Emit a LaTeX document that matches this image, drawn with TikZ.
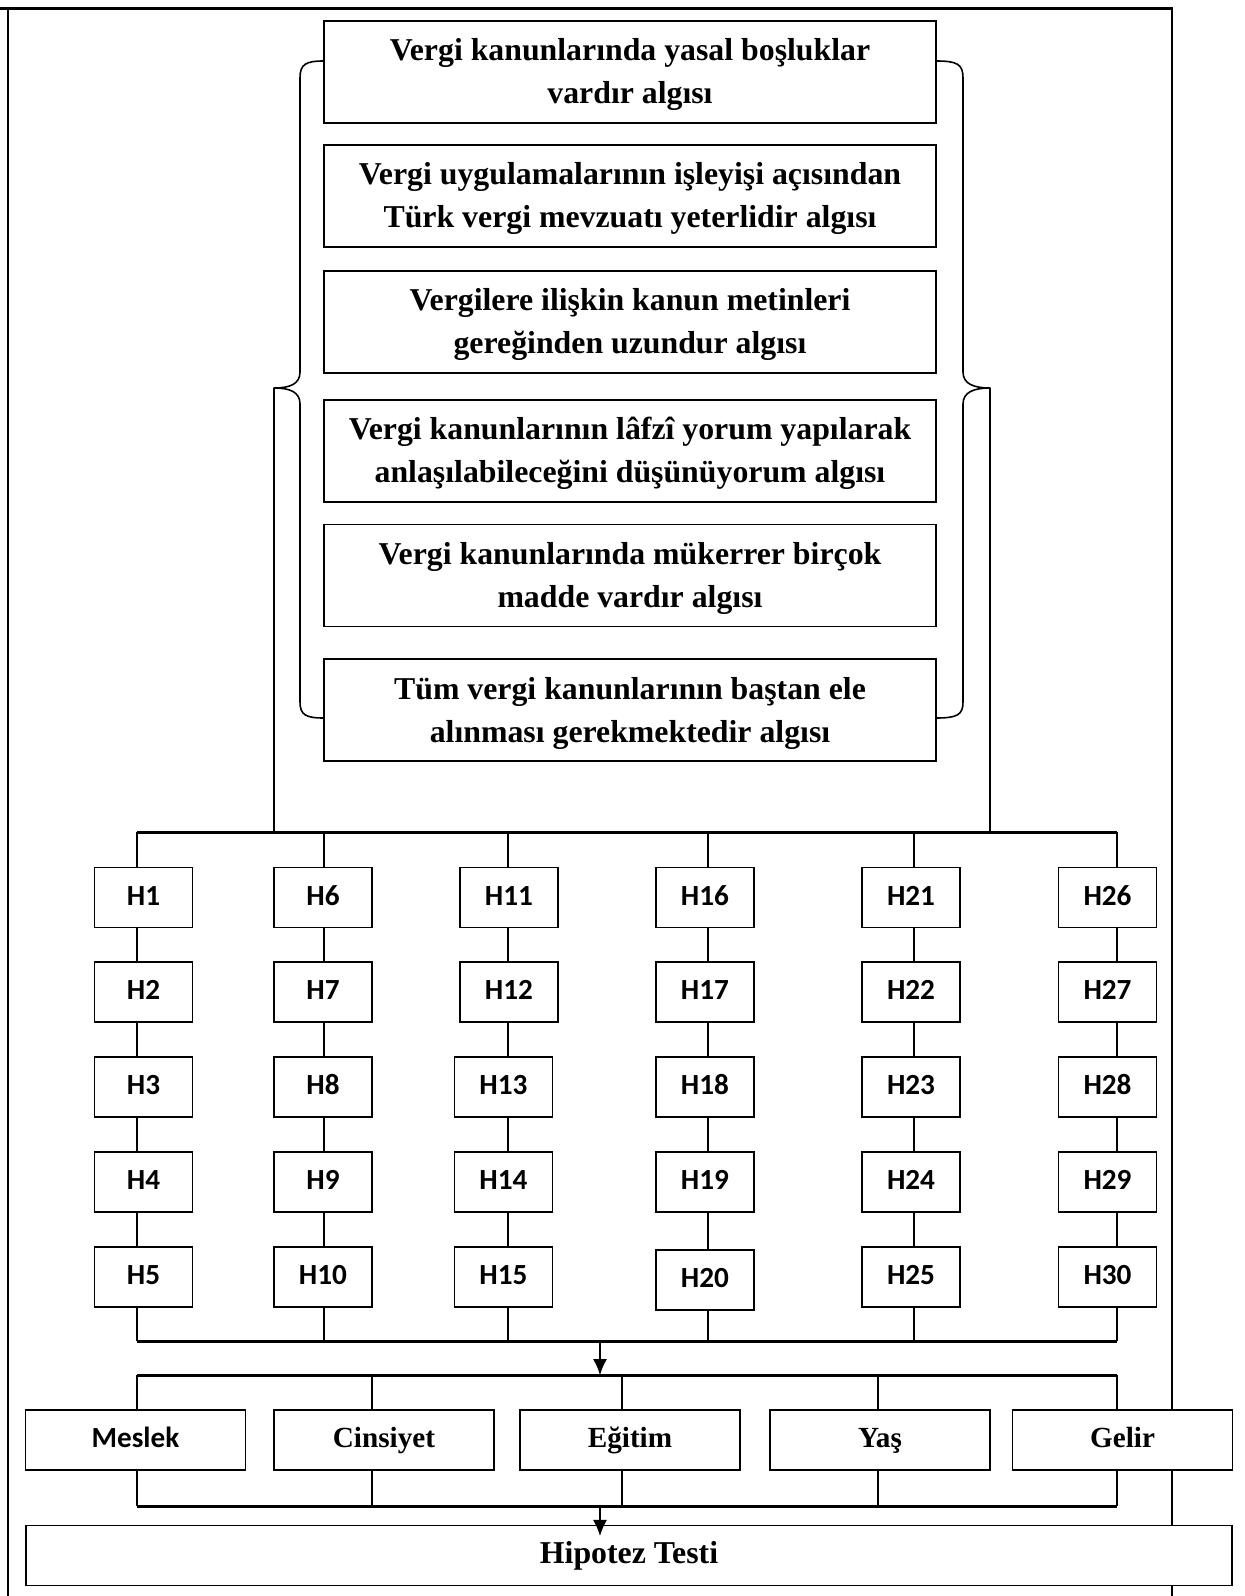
\documentclass[tikz,border=0pt]{standalone}
\usepackage{fontspec}
\setmainfont{Liberation Serif}
\newfontfamily\calfont{Carlito}
\usetikzlibrary{arrows.meta,calc}
\newcommand{\claimtext}{\bfseries\fontsize{15.9}{21.5}\selectfont}
\newcommand{\hyptext}{\calfont\bfseries\fontsize{14.6}{17}\selectfont}
\newcommand{\demotext}{\bfseries\fontsize{14.6}{17}\selectfont}
\newcommand{\topstrut}{\rule{0pt}{14pt}}
\tikzset{
  claim/.style={draw, fill=white, line width=0.6pt, align=center, inner sep=0pt,
    minimum width=306pt, minimum height=51pt, font=\claimtext},
  hyp/.style={draw, fill=white, line width=0.6pt, inner sep=0pt, text height=0.78em, text depth=0pt,
    minimum width=49pt, minimum height=30pt, font=\hyptext},
  demo/.style={draw, fill=white, line width=0.6pt, inner sep=0pt, text height=0.78em, text depth=0pt,
    minimum width=110pt, minimum height=30pt, font=\demotext},
  bus/.style={line width=1.5pt},
  wire/.style={line width=0.6pt},
  flow/.style={wire, -{Latex[length=8pt, width=7pt]}},
  frame/.style={line width=0.75pt},
  brace/.style={line width=0.8pt, line join=round},
}
\begin{document}
\begin{tikzpicture}[x=0.5pt, y=-0.5pt]
  \useasboundingbox (0,0) rectangle (1244,1596);
  % page frame
  \draw[line width=1.5pt] (0,8) -- (1173,8);
  \draw[frame] (8,8) -- (8,1596);
  \draw[frame] (1172,8) -- (1172,1596);
  % perception statements
  \foreach \i/\y/\txt in {
      1/72/{Vergi kanunlarında yasal boşluklar\\vardır algısı},
      2/196/{Vergi uygulamalarının işleyişi açısından\\Türk vergi mevzuatı yeterlidir algısı},
      3/322/{Vergilere ilişkin kanun metinleri\\gereğinden uzundur algısı},
      4/451/{Vergi kanunlarının lâfzî yorum yapılarak\\anlaşılabileceğini düşünüyorum algısı},
      5/575.5/{Vergi kanunlarında mükerrer birçok\\madde vardır algısı},
      6/710/{Tüm vergi kanunlarının baştan ele\\alınması gerekmektedir algısı}}
    \node[claim] (c\i) at (630,\y) {\topstrut\txt};
  % braces
  \coordinate (tipL) at (274,388);
  \coordinate (tipR) at (990,388);
  \draw[brace] (324,61) .. controls (306,61) and (300,64) .. (300,78) -- (300,372)
    .. controls (300,384) and (290,388) .. (tipL) .. controls (290,388) and (300,392) .. (300,404)
    -- (300,702) .. controls (300,715) and (306,718) .. (324,718);
  \draw[brace] (936,61) .. controls (957,61) and (963,64) .. (963,78) -- (963,372)
    .. controls (963,384) and (974,388) .. (tipR) .. controls (974,388) and (963,392) .. (963,404)
    -- (963,702) .. controls (963,715) and (957,718) .. (936,718);
  % hypothesis grid
  \foreach \col/\lx in {0/137,1/324,2/508,3/708,4/914,5/1117} {
    \coordinate (top\col) at (\lx,832);
    \coordinate (bot\col) at (\lx,1341);
  }
  \draw[bus] (top0) -- (top5);
  \draw[bus] (bot0) -- (bot5);
  \draw[wire] (tipL) -- (tipL |- top0);
  \draw[wire] (tipR) -- (tipR |- top0);
  \foreach \col/\xa/\xb/\dy in {0/143.5/143.5/0, 1/323/323/0, 2/509/503.5/0,
      3/705/705/3, 4/911/911/0, 5/1107.5/1107.5/0} {
    \foreach \row/\y in {1/897.5, 2/992, 3/1087, 4/1182, 5/1277} {
      \pgfmathtruncatemacro{\n}{5*\col+\row}
      \pgfmathsetmacro{\hx}{\row<3 ? \xa : \xb}
      \pgfmathsetmacro{\hy}{\y+(\row==5)*\dy}
      \node[hyp] (H\n) at (\hx,\hy) {H\n};
    }
  }
  \foreach \col in {0,...,5} {
    \pgfmathtruncatemacro{\first}{5*\col+1}
    \pgfmathtruncatemacro{\last}{5*\col+5}
    \draw[wire] (top\col) -- (H\first.north -| top\col);
    \draw[wire] (H\last.south -| top\col) -- (bot\col);
    \foreach \k in {1,...,4} {
      \pgfmathtruncatemacro{\hu}{5*\col+\k}
      \pgfmathtruncatemacro{\hd}{\hu+1}
      \draw[wire] (H\hu.south -| top\col) -- (H\hd.north -| top\col);
    }
  }
  % demographic groups
  \foreach \col/\lx in {0/137,1/372,2/622,3/878,4/1117} {
    \coordinate (dtop\col) at (\lx,1375);
    \coordinate (dbot\col) at (\lx,1506);
  }
  \draw[bus] (dtop0) -- (dtop4);
  \draw[bus] (dbot0) -- (dbot4);
  \coordinate (arr1) at (600,1341);
  \draw[flow] (arr1) -- (arr1 |- dtop0);
  \node[demo, font=\calfont\demotext] (meslek) at (135.5,1440) {Meslek};
  \node[demo] (cinsiyet) at (384,1440) {Cinsiyet};
  \node[demo] (egitim) at (630,1440) {Eğitim};
  \node[demo] (yas) at (880,1440) {Yaş};
  \node[demo] (gelir) at (1122.5,1440) {Gelir};
  \foreach \d [count=\k from 0] in {meslek,cinsiyet,egitim,yas,gelir} {
    \draw[wire] (dtop\k) -- (\d.north -| dtop\k);
    \draw[wire] (\d.south -| dtop\k) -- (dbot\k);
  }
  % test
  \node[demo, minimum width=603pt, font=\claimtext] (test) at (629,1555.5) {Hipotez Testi};
  \coordinate (arr2) at (600,1506);
  \draw[flow] (arr2) -- ([yshift=-5.5pt]test.north -| arr2);
\end{tikzpicture}
\end{document}
